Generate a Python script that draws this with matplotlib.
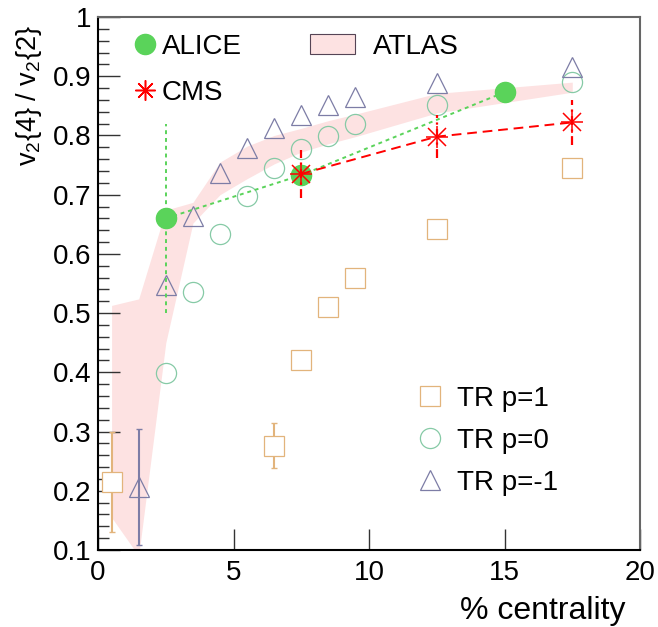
import matplotlib
matplotlib.use('Agg')
import matplotlib.pyplot as plt
import numpy as np
from matplotlib.lines import Line2D
from matplotlib.patches import Patch

plt.rcParams['font.family'] = ['Liberation Sans', 'DejaVu Sans']
plt.rcParams['mathtext.fontset'] = 'custom'
plt.rcParams['mathtext.rm'] = 'Liberation Sans'
plt.rcParams['mathtext.it'] = 'Liberation Sans'

# ALICE
alice_x = [2.5, 7.5, 15.0]
alice_y = [0.660, 0.733, 0.873]
alice_err = [0.160, 0.0, 0.0]

# CMS
cms_x = [7.5, 12.5, 17.5]
cms_y = [0.735, 0.798, 0.822]
cms_err = [0.040, 0.036, 0.038]

# ATLAS band
atlas_x = [0.5, 1.5, 2.5, 3.5, 4.5, 5.5, 6.5, 7.5, 8.5, 9.5, 12.5, 17.5]
atlas_lo = [0.155, 0.09, 0.45, 0.652, 0.700, 0.727, 0.752, 0.772, 0.786, 0.798, 0.838, 0.873]
atlas_hi = [0.513, 0.524, 0.674, 0.687, 0.755, 0.782, 0.800, 0.812, 0.825, 0.836, 0.871, 0.890]

# TR p=1
p1_x = [0.5, 6.5, 7.5, 8.5, 9.5, 12.5, 17.5]
p1_y = [0.215, 0.276, 0.420, 0.511, 0.559, 0.642, 0.745]
p1_err = [0.085, 0.038, 0, 0, 0, 0, 0]

# TR p=0
p0_x = [2.5, 3.5, 4.5, 5.5, 6.5, 7.5, 8.5, 9.5, 12.5, 17.5]
p0_y = [0.399, 0.535, 0.633, 0.698, 0.745, 0.777, 0.799, 0.819, 0.851, 0.890]

# TR p=-1
pm1_x = [1.5, 2.5, 3.5, 4.5, 5.5, 6.5, 7.5, 8.5, 9.5, 12.5, 17.5]
pm1_y = [0.206, 0.547, 0.664, 0.736, 0.779, 0.812, 0.834, 0.851, 0.865, 0.888, 0.916]
pm1_err = [0.098, 0, 0, 0, 0, 0, 0, 0, 0, 0, 0]

yticks = [0.1, 0.2, 0.3, 0.4, 0.5, 0.6, 0.7, 0.8, 0.9, 1.0]
ytick_labels = ['0.1', '0.2', '0.3', '0.4', '0.5', '0.6', '0.7', '0.8', '0.9', '1']
xticks = [0, 5, 10, 15, 20]
xtick_labels = ['0', '5', '10', '15', '20']

c_alice = '#5ad35a'
c_cms = '#ff0000'
c_atlas = '#fde2e2'
c_p1 = '#e2b47c'
c_p0 = '#86caa6'
c_pm1 = '#7d7da6'


def with_err(x, y, e):
    # only the points that have a visible error bar
    x, y, e = np.asarray(x), np.asarray(y), np.asarray(e)
    m = e > 0
    return x[m], y[m], e[m]


fig = plt.figure(figsize=(6.58, 6.27), dpi=100)
ax = fig.add_axes([0.149, 0.1228, 0.8237, 0.8501])

ax.fill_between(atlas_x, atlas_lo, atlas_hi, color=c_atlas, lw=0, zorder=1)

ms = 14.5
ex, ey, ee = with_err(p1_x, p1_y, p1_err)
ax.errorbar(ex, ey, yerr=ee, fmt='none', ecolor=c_p1, elinewidth=1.5, capsize=2, zorder=2)
ax.plot(p1_x, p1_y, 's', ms=ms, mfc='white', mec=c_p1, mew=0.9, zorder=3)
ax.plot(p0_x, p0_y, 'o', ms=ms, mfc='none', mec=c_p0, mew=0.9, zorder=3)
ex, ey, ee = with_err(pm1_x, pm1_y, pm1_err)
ax.errorbar(ex, ey, yerr=ee, fmt='none', ecolor=c_pm1, elinewidth=1.5, capsize=2, zorder=2)
ax.plot(pm1_x, pm1_y, '^', ms=ms, mfc='none', mec=c_pm1, mew=0.9, zorder=3)

# ALICE
ax.plot(alice_x, alice_y, ls=(0, (2, 2)), color=c_alice, lw=1.4, zorder=4)
ex, ey, ee = with_err(alice_x, alice_y, alice_err)
eb = ax.errorbar(ex, ey, yerr=ee, fmt='none', ecolor=c_alice, elinewidth=1.4, zorder=4)
eb[2][0].set_linestyle((0, (2, 2)))
ax.plot(alice_x, alice_y, 'o', ms=ms, color=c_alice, zorder=5)

# CMS
ax.plot(cms_x, cms_y, ls=(0, (5, 3)), color=c_cms, lw=1.4, zorder=6)
eb = ax.errorbar(cms_x, cms_y, yerr=cms_err, fmt='none', ecolor=c_cms, elinewidth=1.6, zorder=6)
eb[2][0].set_linestyle((0, (4, 2, 1, 2)))
ax.plot(cms_x, cms_y, '+', ms=ms * 1.1, mew=1.1, color=c_cms, zorder=7)
ax.plot(cms_x, cms_y, 'x', ms=ms * 0.85, mew=1.1, color=c_cms, zorder=7)

ax.set_xlim(0, 20)
ax.set_ylim(0.1, 1.0)
ax.set_xticks(xticks)
ax.set_xticklabels(xtick_labels)
ax.set_yticks(yticks)
ax.set_yticklabels(ytick_labels)
ax.set_yticks(np.arange(0.12, 1.0, 0.02), minor=True)
ax.tick_params(axis='both', which='both', direction='in', top=False, right=False,
               labelsize=20, width=1.0, color='#333333')
ax.tick_params(axis='y', which='major', length=16, pad=5)
ax.tick_params(axis='y', which='minor', length=8)
ax.tick_params(axis='x', which='major', length=15, pad=7)
for s in ['left', 'bottom']:
    ax.spines[s].set_linewidth(1.5)
    ax.spines[s].set_color('black')
for s in ['top', 'right']:
    ax.spines[s].set_linewidth(1.5)
    ax.spines[s].set_color('#666666')

fig.text(0.044, 0.960, r'v$_2${4} / v$_2${2}', rotation=90, ha='center', va='top', fontsize=19.5)
fig.text(0.951, 0.049, '% centrality', ha='right', va='top', fontsize=23)

# legends
h_alice = Line2D([], [], ls='none', marker='o', ms=ms, color=c_alice)
h_cms = Line2D([], [], ls='none', marker=(8, 2, 0), ms=ms, mew=1.1, color=c_cms)
leg1 = ax.legend([h_alice, h_cms], ['ALICE', 'CMS'], loc='upper left',
                 bbox_to_anchor=(0.066, 0.969), frameon=False, fontsize=20,
                 handlelength=0.8, handletextpad=0.2, labelspacing=0.74,
                 borderpad=0, borderaxespad=0)
ax.add_artist(leg1)

h_atlas = Patch(facecolor=c_atlas, edgecolor='#554455', lw=0.8)
leg2 = ax.legend([h_atlas], ['ATLAS'], loc='upper left', bbox_to_anchor=(0.391, 0.969),
                 frameon=False, fontsize=20, handlelength=1.62, handleheight=0.75,
                 handletextpad=0.65, borderpad=0, borderaxespad=0)
ax.add_artist(leg2)

h_p1 = Line2D([], [], ls='none', marker='s', ms=ms, mfc='none', mec=c_p1, mew=0.9)
h_p0 = Line2D([], [], ls='none', marker='o', ms=ms, mfc='none', mec=c_p0, mew=0.9)
h_pm1 = Line2D([], [], ls='none', marker='^', ms=ms, mfc='none', mec=c_pm1, mew=0.9)
ax.legend([h_p1, h_p0, h_pm1], ['TR p=1', 'TR p=0', 'TR p=-1'], loc='upper left',
          bbox_to_anchor=(0.587, 0.308), frameon=False, fontsize=20,
          handlelength=1.0, handletextpad=0.47, labelspacing=0.58,
          borderpad=0, borderaxespad=0)

fig.savefig('out.png', dpi=100)
